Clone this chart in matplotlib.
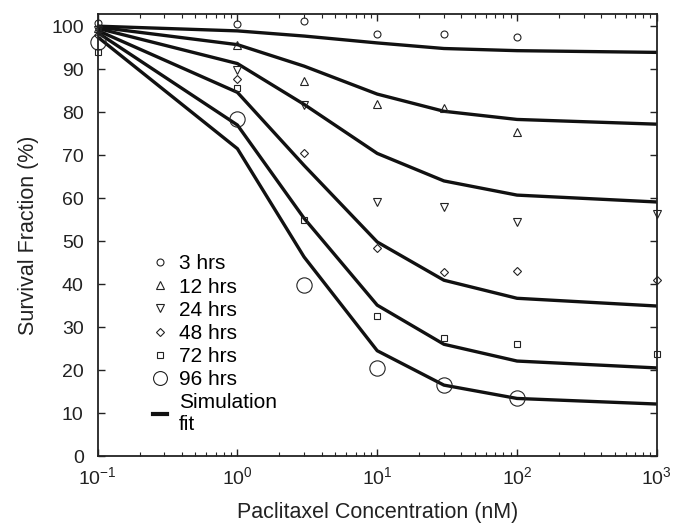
import numpy as np
import matplotlib
matplotlib.use("Agg")
import matplotlib.pyplot as plt
from matplotlib.lines import Line2D

plt.rcParams['font.family'] = ['Liberation Sans', 'DejaVu Sans']
plt.rcParams['mathtext.default'] = 'regular'
plt.rcParams['mathtext.fontset'] = 'custom'
plt.rcParams['mathtext.rm'] = 'Liberation Sans'

conc = [0.1, 1, 3, 10, 30, 100, 1000]
nan = float('nan')

# measured data
d3 = [100.8, 100.6, 101.2, 98.1, 98.1, 97.4, nan]
d12 = [99.5, 95.6, 87.2, 81.8, 80.9, 75.3, nan]
d24 = [99.0, 89.9, 81.6, 59.1, 58.0, 54.5, 56.4]
d48 = [98.0, 87.7, 70.6, 48.5, 42.9, 43.1, 40.9]
d72 = [94.0, 85.5, 55.0, 32.6, 27.4, 26.1, 23.7]
d96 = [96.4, 78.3, 39.8, 20.5, 16.5, 13.6, nan]

# simulation fits
s3 = [100.0, 98.9, 97.7, 96.1, 94.8, 94.3, 93.9]
s12 = [99.8, 95.7, 90.7, 84.2, 80.2, 78.3, 77.2]
s24 = [99.5, 91.3, 81.8, 70.4, 64.0, 60.7, 59.1]
s48 = [99.0, 84.6, 67.6, 49.8, 40.9, 36.7, 34.9]
s72 = [98.5, 77.0, 55.3, 35.1, 26.0, 22.1, 20.5]
s96 = [97.5, 71.5, 46.3, 24.5, 16.5, 13.4, 12.1]

labels = ['3 hrs', '12 hrs', '24 hrs', '48 hrs', '72 hrs', '96 hrs']
markers = ['o', '^', 'v', 'D', 's', 'o']
msizes = [5, 6, 6, 4.5, 4.5, 11]

FS = 14

fig = plt.figure(figsize=(6.73, 5.23), dpi=100)
ax = fig.add_axes([0.145, 0.128, 0.831, 0.845])

for s in [s3, s12, s24, s48, s72, s96]:
    ax.plot(conc, s, color='#111111', lw=2.4, solid_joinstyle='round', zorder=2)

for d, m, ms in zip([d3, d12, d24, d48, d72, d96], markers, msizes):
    ax.plot(conc, d, linestyle='none', marker=m, ms=ms, mfc='none', mec='#222222',
            mew=0.8, clip_on=False, zorder=3)

ax.set_xscale('log')
ax.set_xlim(0.1, 1000)
ax.set_ylim(0, 102.8)
ax.set_yticks(np.arange(0, 101, 10))
ax.tick_params(axis='both', which='both', direction='in', top=True, right=True,
               labelsize=FS, colors='#222222')
ax.tick_params(which='major', length=5, width=1)
ax.tick_params(which='minor', length=3, width=0.8)
ax.tick_params(axis='x', pad=7)
ax.tick_params(axis='y', pad=10)
for sp in ax.spines.values():
    sp.set_linewidth(1.3)
    sp.set_color('#222222')

ax.set_xlabel('Paclitaxel Concentration (nM)', fontsize=15.5, color='#222222', labelpad=10)
ax.set_ylabel('Survival Fraction (%)', fontsize=15.5, color='#222222', labelpad=9)

handles = []
for lab, m, ms in zip(labels, markers, msizes):
    hm = ms if ms < 10 else 10
    handles.append(Line2D([], [], linestyle='none', marker=m, ms=hm, mfc='none',
                          mec='#222222', mew=0.8, label=lab))
handles.append(Line2D([], [], color='#111111', lw=3, label='Simulation\nfit'))
leg = ax.legend(handles=handles, loc='upper left', bbox_to_anchor=(0.08, 0.48),
                frameon=False, fontsize=15, handlelength=0.7, handletextpad=0.55,
                labelspacing=0.2, borderpad=0)

fig.savefig('out.png', dpi=100)
